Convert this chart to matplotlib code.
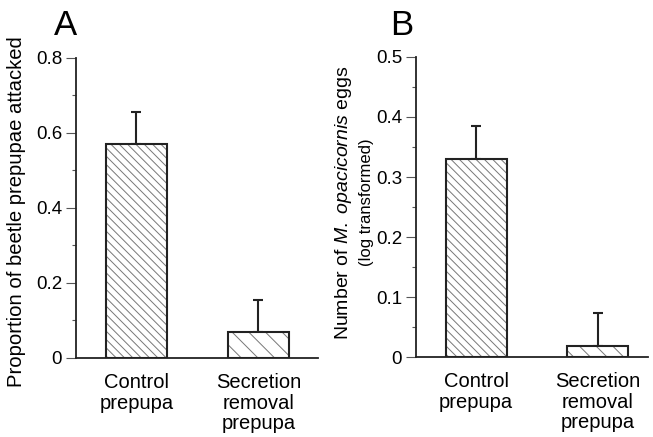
import numpy as np
import matplotlib.pyplot as plt
from matplotlib.ticker import MultipleLocator

plt.rcParams['font.family'] = ['Liberation Sans', 'DejaVu Sans']
plt.rcParams['mathtext.fontset'] = 'custom'
plt.rcParams['mathtext.rm'] = 'Liberation Sans'
plt.rcParams['mathtext.it'] = 'Liberation Sans:italic'
plt.rcParams['hatch.linewidth'] = 0.7

groups = ['Control\nprepupa', 'Secretion\nremoval\nprepupa']
hatches = ['\\\\\\\\', '\\\\']

# panel A: proportion attacked
prop_mean = [0.571, 0.069]
prop_err = [0.085, 0.086]

# panel B: eggs (log transformed)
eggs_mean = [0.330, 0.018]
eggs_err = [0.055, 0.056]

fig = plt.figure(figsize=(6.53, 4.37), dpi=100)
axA = fig.add_axes([0.1164, 0.1808, 0.3706, 0.6865])
axB = fig.add_axes([0.637, 0.183, 0.355, 0.6866])


def draw(ax, means, errs, ymax, major, minor, xr):
    x = np.arange(len(means))
    for xi, m, h in zip(x, means, hatches):
        ax.bar(xi, m, width=0.5, color='white', edgecolor='#777777',
               linewidth=0, hatch=h, zorder=2)
    ax.bar(x, means, width=0.5, color='none', edgecolor='#222222',
           linewidth=1.5, zorder=3)
    ax.errorbar(x, means, yerr=[np.zeros(len(errs)), errs], fmt='none',
                ecolor='#222222', elinewidth=1.5, capsize=3.5, capthick=1.5,
                zorder=1)
    ax.set_xlim(-0.495, xr)
    ax.set_ylim(0, ymax)
    ax.yaxis.set_major_locator(MultipleLocator(major))
    ax.yaxis.set_minor_locator(MultipleLocator(minor))
    ax.yaxis.set_major_formatter(
        plt.FuncFormatter(lambda v, p: '0' if v == 0 else f'{v:.1f}'))
    ax.spines['top'].set_visible(False)
    ax.spines['right'].set_visible(False)
    for s in ['left', 'bottom']:
        ax.spines[s].set_linewidth(1.3)
        ax.spines[s].set_color('#222222')
    ax.tick_params(axis='y', which='major', length=7, width=0.8,
                   color='#555555', labelsize=13.5, pad=3)
    ax.tick_params(axis='y', which='minor', length=3, width=0.8,
                   color='#555555')
    ax.set_xticks(x)
    ax.set_xticklabels(groups, fontsize=14.5, va='top', linespacing=1.1)
    ax.tick_params(axis='x', length=0, pad=11)


draw(axA, prop_mean, prop_err, 0.8, 0.2, 0.1, 1.49)
draw(axB, eggs_mean, eggs_err, 0.5, 0.1, 0.05, 1.41)

fig.text(17 / 653, 1 - 212 / 437, 'Proportion of beetle prepupae attacked',
         fontsize=14.6, rotation=90, ha='center', va='center')

fig.text(343 / 653, 1 - 203 / 437, 'Number of $M.$ $opacicornis$ eggs',
         fontsize=14, rotation=90, ha='center', va='center')
fig.text(366 / 653, 1 - 202 / 437, '(log transformed)', fontsize=12,
         rotation=90, ha='center', va='center')

fig.text(54 / 653, 1 - 35 / 437, 'A', fontsize=25, ha='left', va='baseline')
fig.text(390 / 653, 1 - 35 / 437, 'B', fontsize=25, ha='left', va='baseline')

fig.savefig('out.png', dpi=100)
